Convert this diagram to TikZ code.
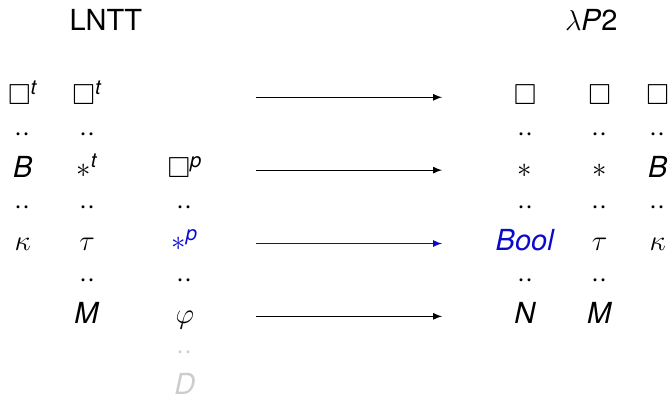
\documentclass[tikz,border=0pt]{standalone}
\usepackage{xcolor}
\usepackage{amsmath}
\usepackage{amssymb}
\usepackage{fontspec}
\setmainfont{TeX Gyre Heros}
\usepackage{tikz}
\usetikzlibrary{arrows}
\tikzset{>=latex}
\definecolor{hlblue}{RGB}{10,10,205}
\definecolor{faded}{RGB}{205,205,205}
\tikzstyle{lvl} = [draw=none, inner sep = 0, anchor = base]
\tikzstyle{map} = [-latex, draw = black, line width = 0.55pt]
\newcommand{\twodots}{${\cdot}{\cdot}$}
\newcommand{\vr}[1]{\textit{#1}}

\begin{document}
\begin{tikzpicture}[font=\fontsize{14.5}{17}\selectfont]
\useasboundingbox (0,0) rectangle (11.74,-6.99);
%\node [draw=none] at (6,0) {headers};
\node [lvl] (LNTT) at (1.86,-0.54) {LNTT};
\node [lvl] (LP) at (10.39,-0.54) {$\lambda$\vr{P}2};
% LNTT, sorts of terms
\node [lvl] (Bt1) at (0.40,-1.84) {$\Box^{\vr{t}}$};
\node [lvl] (d11) at (0.40,-2.48) {\twodots};
\node [lvl] (B1) at (0.40,-3.12) {\vr{B}};
\node [lvl] (d12) at (0.40,-3.77) {\twodots};
\node [lvl] (K1) at (0.40,-4.41) {$\kappa$};
\node [lvl] (Bt2) at (1.53,-1.84) {$\Box^{\vr{t}}$};
\node [lvl] (d21) at (1.53,-2.48) {\twodots};
\node [lvl] (St2) at (1.53,-3.12) {$\ast^{\vr{t}}$};
\node [lvl] (d22) at (1.53,-3.77) {\twodots};
\node [lvl] (T2) at (1.53,-4.41) {$\tau$};
\node [lvl] (d23) at (1.53,-5.05) {\twodots};
\node [lvl] (M2) at (1.53,-5.69) {\vr{M}};
% LNTT, propositions
\node [lvl] (Bp3) at (3.25,-3.12) {$\Box^{\vr{p}}$};
\node [lvl] (d31) at (3.25,-3.77) {\twodots};
\node [lvl, text = hlblue] (Sp3) at (3.25,-4.41) {$\ast^{\vr{p}}$};
\node [lvl] (d32) at (3.25,-5.05) {\twodots};
\node [lvl] (F3) at (3.25,-5.69) {$\varphi$};
\node [lvl, text = faded] (d33) at (3.25,-6.32) {\twodots};
\node [lvl, text = faded] (D3) at (3.25,-6.93) {\vr{D}};
% lambda P2
\node [lvl] (B4) at (9.23,-1.84) {$\Box$};
\node [lvl] (d41) at (9.23,-2.48) {\twodots};
\node [lvl] (S4) at (9.23,-3.12) {$\ast$};
\node [lvl] (d42) at (9.23,-3.77) {\twodots};
\node [lvl, text = hlblue] (Bool4) at (9.23,-4.41) {\vr{Bool}};
\node [lvl] (d43) at (9.23,-5.05) {\twodots};
\node [lvl] (N4) at (9.23,-5.69) {\vr{N}};
\node [lvl] (B5) at (10.54,-1.84) {$\Box$};
\node [lvl] (d51) at (10.54,-2.48) {\twodots};
\node [lvl] (S5) at (10.54,-3.12) {$\ast$};
\node [lvl] (d52) at (10.54,-3.77) {\twodots};
\node [lvl] (T5) at (10.54,-4.41) {$\tau$};
\node [lvl] (d53) at (10.54,-5.05) {\twodots};
\node [lvl] (M5) at (10.54,-5.69) {\vr{M}};
\node [lvl] (B6) at (11.56,-1.84) {$\Box$};
\node [lvl] (d61) at (11.56,-2.48) {\twodots};
\node [lvl] (B6b) at (11.56,-3.12) {\vr{B}};
\node [lvl] (d62) at (11.56,-3.77) {\twodots};
\node [lvl] (K6) at (11.56,-4.41) {$\kappa$};
% translation arrows
\coordinate (s1) at (4.50,-1.71);
\coordinate (e1) at (7.77,-1.71);
\coordinate (s2) at (4.50,-2.99);
\coordinate (e2) at (7.77,-2.99);
\coordinate (s3) at (4.50,-4.28);
\coordinate (e3) at (7.77,-4.28);
\coordinate (s4) at (4.50,-5.56);
\coordinate (e4) at (7.77,-5.56);
\draw [map] (s1) to (e1);
\draw [map] (s2) to (e2);
\draw [map, draw = hlblue] (s3) to (e3);
\draw [map] (s4) to (e4);
\end{tikzpicture}
\end{document}
